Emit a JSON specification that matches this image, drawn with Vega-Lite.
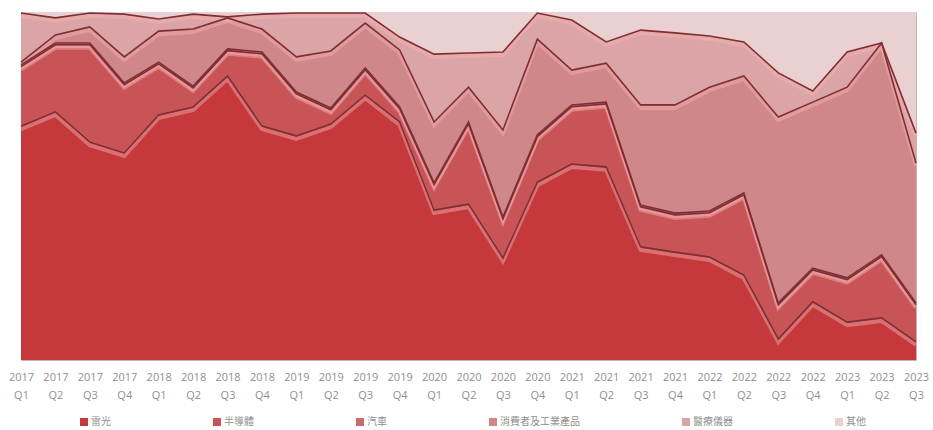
{
  "$schema": "https://vega.github.io/schema/vega-lite/v6.json",
  "width": 895,
  "height": 348,
  "autosize": {"type": "none"},
  "padding": {"left": 21, "top": 12, "right": 17, "bottom": 70},
  "background": "white",
  "config": {
    "view": {"stroke": "#c9b3b4", "strokeWidth": 1},
    "font": "Open Sans"
  },
  "data": {
    "values": [
      {"q": "2017 Q1", "雷光": 67.2, "半導體": 17.1, "汽車": 0.5, "消費者及工業產品": 0.8, "醫療儀器": 14.1, "其他": 0.3},
      {"q": "2017 Q2", "雷光": 71.3, "半導體": 19.3, "汽車": 0.5, "消費者及工業產品": 2.3, "醫療儀器": 4.9, "其他": 1.7},
      {"q": "2017 Q3", "雷光": 62.6, "半導體": 28.0, "汽車": 0.5, "消費者及工業產品": 4.6, "醫療儀器": 4.0, "其他": 0.3},
      {"q": "2017 Q4", "雷光": 59.5, "半導體": 19.6, "汽車": 0.5, "消費者及工業產品": 7.5, "醫療儀器": 12.3, "其他": 0.6},
      {"q": "2018 Q1", "雷光": 70.4, "半導體": 14.7, "汽車": 0.5, "消費者及工業產品": 8.9, "醫療儀器": 3.5, "其他": 2.0},
      {"q": "2018 Q2", "雷光": 72.7, "半導體": 5.5, "汽車": 0.5, "消費者及工業產品": 16.4, "醫療儀器": 4.3, "其他": 0.6},
      {"q": "2018 Q3", "雷光": 81.6, "半導體": 7.3, "汽車": 0.5, "消費者及工業產品": 8.9, "醫療儀器": 0.3, "其他": 1.4},
      {"q": "2018 Q4", "雷光": 67.2, "半導體": 20.8, "汽車": 0.5, "消費者及工業產品": 6.6, "醫療儀器": 4.3, "其他": 0.6},
      {"q": "2019 Q1", "雷光": 64.4, "半導體": 12.1, "汽車": 0.5, "消費者及工業產品": 10.1, "醫療儀器": 12.6, "其他": 0.3},
      {"q": "2019 Q2", "雷光": 67.8, "半導體": 4.1, "汽車": 0.5, "消費者及工業產品": 16.4, "醫療儀器": 10.9, "其他": 0.3},
      {"q": "2019 Q3", "雷光": 76.1, "半導體": 7.3, "汽車": 0.5, "消費者及工業產品": 12.9, "醫療儀器": 2.9, "其他": 0.3},
      {"q": "2019 Q4", "雷光": 68.4, "半導體": 3.8, "汽車": 0.5, "消費者及工業產品": 16.4, "醫療儀器": 3.7, "其他": 7.2},
      {"q": "2020 Q1", "雷光": 43.1, "半導體": 7.3, "汽車": 0.5, "消費者及工業產品": 17.5, "醫療儀器": 19.5, "其他": 12.1},
      {"q": "2020 Q2", "雷光": 44.8, "半導體": 23.1, "汽車": 0.5, "消費者及工業產品": 10.0, "醫療儀器": 9.8, "其他": 11.8},
      {"q": "2020 Q3", "雷光": 29.3, "半導體": 11.3, "汽車": 0.5, "消費者及工業產品": 25.0, "醫療儀器": 22.4, "其他": 11.5},
      {"q": "2020 Q4", "雷光": 51.1, "半導體": 13.1, "汽車": 0.5, "消費者及工業產品": 27.5, "醫療儀器": 7.5, "其他": 0.3},
      {"q": "2021 Q1", "雷光": 56.3, "半導體": 16.5, "汽車": 0.5, "消費者及工業產品": 10.0, "醫療儀器": 14.4, "其他": 2.3},
      {"q": "2021 Q2", "雷光": 55.5, "半導體": 18.1, "汽車": 0.5, "消費者及工業產品": 11.2, "醫療儀器": 6.1, "其他": 8.6},
      {"q": "2021 Q3", "雷光": 32.5, "半導體": 11.5, "汽車": 0.5, "消費者及工業產品": 28.8, "醫療儀器": 21.5, "其他": 5.2},
      {"q": "2021 Q4", "雷光": 31.0, "半導體": 10.7, "汽車": 0.5, "消費者及工業產品": 31.1, "醫療儀器": 20.7, "其他": 6.0},
      {"q": "2022 Q1", "雷光": 29.6, "半導體": 12.7, "汽車": 0.5, "消費者及工業產品": 35.6, "醫療儀器": 14.7, "其他": 6.9},
      {"q": "2022 Q2", "雷光": 24.4, "半導體": 23.1, "汽車": 0.5, "消費者及工業產品": 33.6, "醫療儀器": 9.8, "其他": 8.6},
      {"q": "2022 Q3", "雷光": 6.0, "半導體": 9.9, "汽車": 0.5, "消費者及工業產品": 53.4, "醫療儀器": 12.7, "其他": 17.5},
      {"q": "2022 Q4", "雷光": 16.7, "半導體": 9.2, "汽車": 0.5, "消費者及工業產品": 47.7, "醫療儀器": 3.2, "其他": 22.7},
      {"q": "2023 Q1", "雷光": 10.9, "半導體": 12.2, "汽車": 0.5, "消費者及工業產品": 54.8, "醫療儀器": 10.1, "其他": 11.5},
      {"q": "2023 Q2", "雷光": 12.1, "半導體": 17.6, "汽車": 0.5, "消費者及工業產品": 60.9, "醫療儀器": 0.0, "其他": 8.9},
      {"q": "2023 Q3", "雷光": 5.2, "半導體": 10.7, "汽車": 0.5, "消費者及工業產品": 40.2, "醫療儀器": 8.6, "其他": 34.8}
    ]
  },
  "transform": [
    {"fold": ["雷光", "半導體", "汽車", "消費者及工業產品", "醫療儀器", "其他"], "as": ["s", "v"]},
    {"calculate": "indexof(['雷光', '半導體', '汽車', '消費者及工業產品', '醫療儀器', '其他'], datum.s)", "as": "o"},
    {"stack": "v", "groupby": ["q"], "sort": [{"field": "o", "order": "ascending"}], "offset": "normalize", "as": ["y0", "y1"]}
  ],
  "encoding": {
    "x": {
      "field": "q",
      "type": "ordinal",
      "sort": null,
      "scale": {"type": "point", "padding": 0},
      "axis": {
        "title": null,
        "domain": false,
        "ticks": false,
        "labelAngle": 0,
        "labelExpr": "split(datum.label, ' ')",
        "labelLineHeight": 18,
        "labelPadding": 11,
        "labelFontSize": 11,
        "labelColor": "#8f8f8f",
        "labelFont": "Open Sans"
      }
    }
  },
  "layer": [
    {
      "mark": {"type": "area", "interpolate": "linear"},
      "encoding": {
        "y": {"field": "y1", "type": "quantitative", "scale": {"domain": [0, 1]}, "axis": null},
        "y2": {"field": "y0"},
        "order": {"field": "o"},
        "color": {
          "field": "s",
          "type": "nominal",
          "scale": {
            "domain": ["雷光", "半導體", "汽車", "消費者及工業產品", "醫療儀器", "其他"],
            "range": ["#c5393d", "#c95457", "#cc6a6d", "#cf8789", "#dba4a6", "#ead0d1"]
          },
          "legend": {
            "orient": "none",
            "legendX": 58,
            "legendY": 405,
            "direction": "horizontal",
            "title": null,
            "symbolType": "square",
            "symbolSize": 64,
            "symbolStrokeWidth": 0,
            "labelFontSize": 10,
            "labelColor": "#8f8f8f",
            "labelFont": "Noto Sans CJK TC",
            "labelOffset": 2,
            "labelLimit": 200,
            "columnPadding": 101
          }
        }
      }
    },
    {
      "transform": [{"filter": "datum.s !== '其他'"}],
      "mark": {"type": "line", "color": "#f7b3b3", "strokeWidth": 4, "opacity": 0.45, "yOffset": 3},
      "encoding": {
        "y": {"field": "y1", "type": "quantitative"},
        "detail": {"field": "s"}
      }
    },
    {
      "transform": [{"filter": "datum.s !== '其他'"}],
      "mark": {"type": "line", "color": "#7d2f34", "strokeWidth": 1.6},
      "encoding": {
        "y": {"field": "y1", "type": "quantitative"},
        "detail": {"field": "s"}
      }
    }
  ]
}
